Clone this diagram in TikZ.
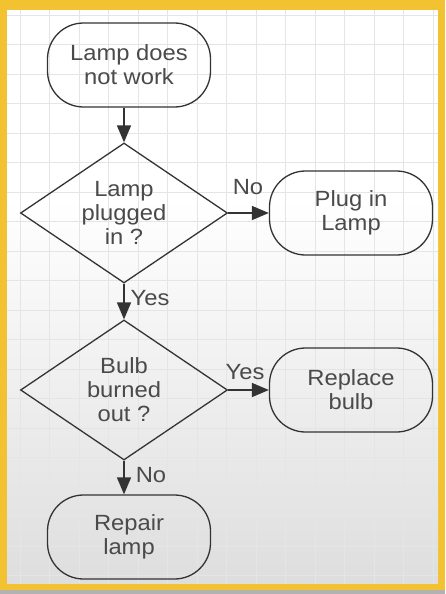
\documentclass[tikz,border=0pt]{standalone}
\usepackage{fontspec}
\setmainfont[FakeStretch=1.08]{Liberation Sans}
\usetikzlibrary{shapes.geometric,arrows.meta}
\definecolor{frameyellow}{HTML}{F2C230}
\definecolor{txt}{HTML}{4A4A4A}
\definecolor{ln}{HTML}{333333}
\definecolor{gridc}{HTML}{E2E6E6}
\tikzset{
  term/.style={draw=ln, line width=1.3pt, rounded corners=36pt, minimum width=163pt, minimum height=84pt, inner sep=0pt, align=center, text=txt, font=\fontsize{22}{24}\selectfont},
  decide/.style={draw=ln, line width=1.3pt, diamond, aspect=1.48, minimum width=207pt, minimum height=140pt, inner sep=0pt, align=center, text=txt, font=\fontsize{22}{24}\selectfont},
  conn/.style={draw=ln, line width=1.6pt, -{Triangle[length=17pt,width=14pt]}},
  lbl/.style={text=txt, font=\fontsize{22}{24}\selectfont, inner sep=0pt}
}
\begin{document}
\begin{tikzpicture}[x=1pt,y=-1pt]
\useasboundingbox (0,0) rectangle (445,594);
% frame
\fill[frameyellow] (0,0) rectangle (445,594);
\fill[gray!60] (0,590) rectangle (445,594);
\fill[white] (7,10) rectangle (438,200);
\shade[top color=white, bottom color=black!13] (7,200) rectangle (438,583);
% grid
\begin{scope}
\clip (7,10) rectangle (438,583);
\foreach \gx in {0,...,14} \draw[gridc, line width=0.6pt] (20+29.5*\gx,10) -- (20+29.5*\gx,583);
\foreach \gy in {0,...,19} \draw[gridc, line width=0.6pt] (7,15+29.5*\gy) -- (438,15+29.5*\gy);
\end{scope}
% nodes
\node[term] (start) at (129,65) {Lamp does\\not work};
\node[decide] (d1) at (124,213) {Lamp\\plugged\\in ?};
\node[term] (plug) at (351,213) {Plug in\\Lamp};
\node[decide] (d2) at (124,390) {Bulb\\burned\\out ?};
\node[term] (bulb) at (351,390) {Replace\\bulb};
\node[term] (repair) at (129,537) {Repair\\lamp};
% connectors
\draw[conn] (start.south -| d1.north) -- (d1.north);
\draw[conn] (d1.east) -- (plug.west);
\draw[conn] (d1.south) -- (d2.north);
\draw[conn] (d2.east) -- (bulb.west);
\draw[conn] (d2.south) -- (d2.south |- repair.north);
% labels
\node[lbl] (lno1) at (248,187) {No};
\node[lbl] (lyes1) at (150,298) {Yes};
\node[lbl] (lyes2) at (245,372) {Yes};
\node[lbl] (lno2) at (151,475) {No};
\end{tikzpicture}
\end{document}
